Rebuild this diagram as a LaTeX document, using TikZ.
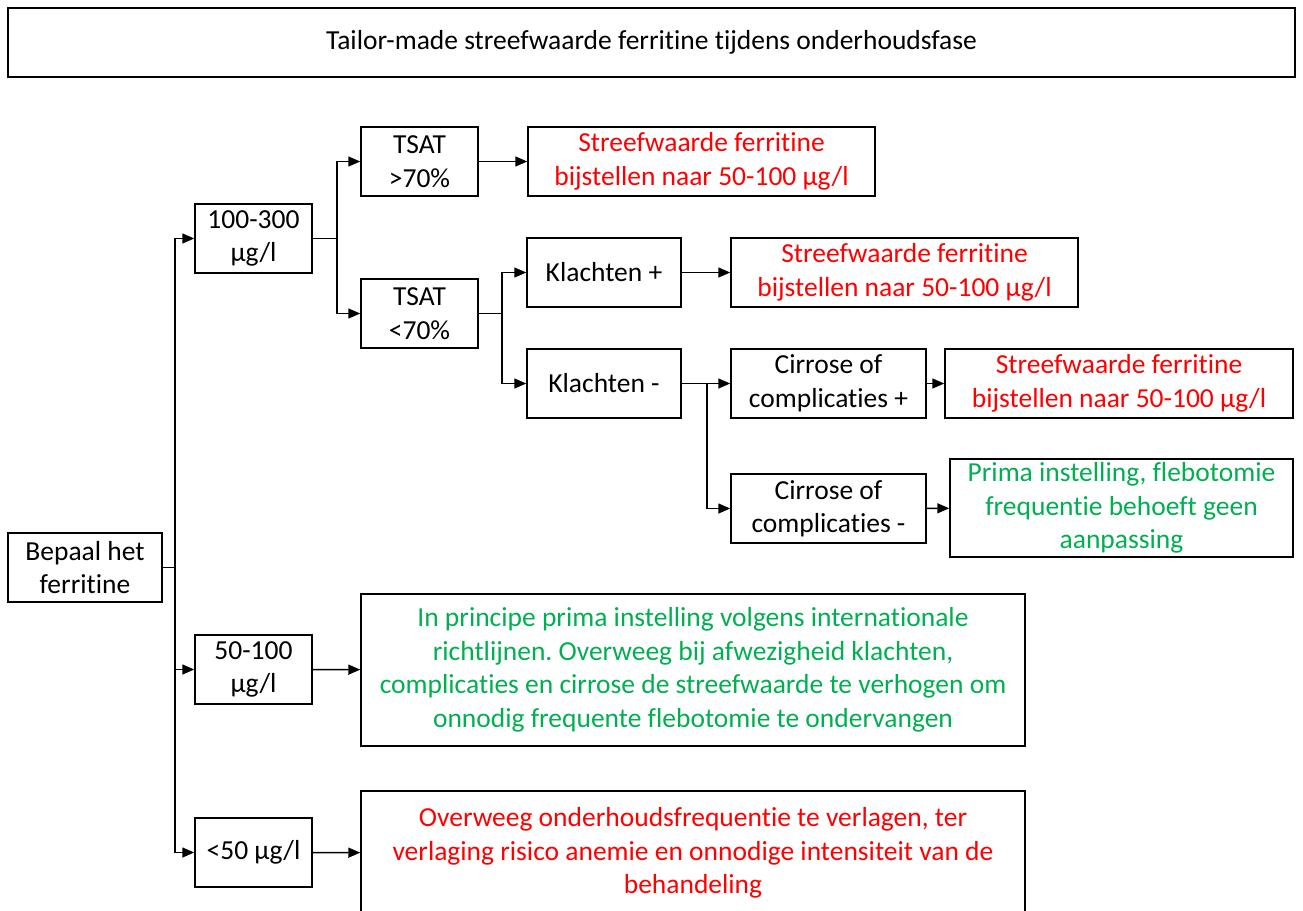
\documentclass[tikz,border=0pt]{standalone}
\usepackage{fontspec}
\setmainfont{Carlito}[Ligatures=NoCommon]
\usetikzlibrary{arrows.meta,positioning}
\definecolor{advred}{RGB}{255,0,0}
\definecolor{advgreen}{RGB}{0,176,80}
\frenchspacing

\begin{document}
\begin{tikzpicture}[
    x=1pt, y=-1pt,
    >={Triangle[length=12pt,width=10pt]},
    line width=1.5pt,
    box/.style={
        draw,
        rectangle,
        align=center,
        inner sep=0pt,
        line width=1.5pt,
        font=\fontsize{27.5}{33.5}\selectfont
    },
    valbox/.style={box, minimum width=117pt, minimum height=69pt},
    klbox/.style={box, minimum width=154pt, minimum height=69pt},
    cirbox/.style={box, minimum width=195pt, minimum height=69pt},
    redbox/.style={box, text=advred},
    greenbox/.style={box, text=advgreen}
]
\useasboundingbox (0,0) rectangle (1303,910);
\clip (0,0) rectangle (1303,910);

\node[box, minimum width=1287pt, minimum height=69pt] (title) at (651.5,42.5) {Tailor-made streefwaarde ferritine tijdens onderhoudsfase};

\node[box, minimum width=154pt, minimum height=69pt] (start) at (85,567.5) {Bepaal het\\ferritine};

\node[valbox] (v100) at (253.5,238.5) {100-300\\µg/l};
\node[valbox] (v50) at (253.5,669.5) {50-100\\µg/l};
\node[valbox] (v0) at (253.5,852.5) {<50 µg/l};

\node[valbox] (tsathi) at (419.5,161.5) {TSAT\\>70\%};
\node[valbox] (tsatlo) at (419.5,313.5) {TSAT\\<70\%};

\node[klbox] (klplus) at (604,272.5) {Klachten +};
\node[klbox] (klmin) at (604,383.5) {Klachten -};

\node[cirbox] (cirplus) at (828.5,383.5) {Cirrose of\\complicaties +};
\node[cirbox] (cirmin) at (828.5,508.5) {Cirrose of\\complicaties -};

\node[redbox, minimum width=347pt, minimum height=69pt] (adv1) at (701.5,161.5) {Streefwaarde ferritine\\bijstellen naar 50-100 µg/l};
\node[redbox, minimum width=347pt, minimum height=69pt] (adv2) at (904.5,272.5) {Streefwaarde ferritine\\bijstellen naar 50-100 µg/l};
\node[redbox, minimum width=348pt, minimum height=69pt] (adv3) at (1119,383.5) {Streefwaarde ferritine\\bijstellen naar 50-100 µg/l};
\node[greenbox, minimum width=343pt, minimum height=98pt] (adv4) at (1121.5,508) {Prima instelling, flebotomie\\frequentie behoeft geen\\aanpassing};
\node[greenbox, minimum width=664pt, minimum height=152pt] (adv5) at (693,670) {In principe prima instelling volgens internationale\\richtlijnen. Overweeg bij afwezigheid klachten,\\complicaties en cirrose de streefwaarde te verhogen om\\onnodig frequente flebotomie te ondervangen};
\node[redbox, minimum width=664pt, minimum height=124pt] (adv6) at (693,853) {Overweeg onderhoudsfrequentie te verlagen, ter\\verlaging risico anemie en onnodige intensiteit van de\\behandeling};

% branch points
\coordinate (trunk) at (175,567.5);
\coordinate (b100) at (337,238.5);
\coordinate (btsat) at (502,313.5);
\coordinate (bkl) at (707,383.5);

\draw (start.east) -- (trunk);
\draw[->] (trunk) |- (v100.west);
\draw[->] (trunk) |- (v50.west);
\draw[->] (trunk) |- (v0.west);

\draw (v100.east) -- (b100);
\draw[->] (b100) |- (tsathi.west);
\draw[->] (b100) |- (tsatlo.west);
\draw[->] (tsathi) -- (adv1);

\draw (tsatlo.east) -- (btsat);
\draw[->] (btsat) |- (klplus.west);
\draw[->] (btsat) |- (klmin.west);
\draw[->] (klplus) -- (adv2);

\draw[->] (klmin.east) -- (cirplus.west);
\draw[->] (bkl) |- (cirmin.west);
\draw[->] (cirplus) -- (adv3);
\draw[->] (cirmin) -- (adv4);

\draw[->] (v50) -- (adv5);
\draw[->] (v0) -- (adv6);

\end{tikzpicture}
\end{document}
